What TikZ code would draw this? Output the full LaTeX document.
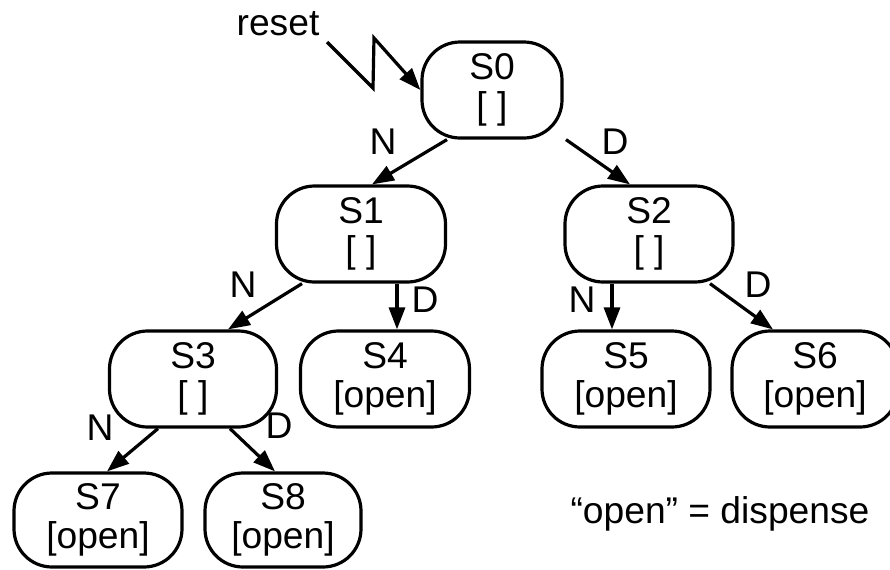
\documentclass[tikz,border=0pt]{standalone}
\usepackage{fontspec}
\setmainfont{Liberation Sans}
\usetikzlibrary{arrows.meta,calc}
\begin{document}
\begin{tikzpicture}[x=0.5pt,y=-0.5pt,
  state/.style={draw,line width=1.6pt,rounded corners=19pt,minimum width=84pt,minimum height=48pt,inner sep=0pt,align=center,font=\fontsize{18.6}{19.5}\selectfont},
  arr/.style={line width=1.6pt,-{Triangle[length=11pt,width=8pt]}},
  lbl/.style={font=\fontsize{18.6}{19.5}\selectfont,inner sep=0pt}]
\useasboundingbox (0,0) rectangle (890,569);
\begin{scope}
\clip (0,0) rectangle (890,569);
\node[state, minimum width=70pt] (S0) at (492,90) {S0\\{[ ]}};
\node[state, minimum width=84.5pt] (S1) at (361,234) {S1\\{[ ]}};
\node[state] (S2) at (649,234) {S2\\{[ ]}};
\node[state, minimum width=83.5pt] (S3) at (193,379) {S3\\{[ ]}};
\node[state, minimum width=84.5pt] (S4) at (385,379) {S4\\{[open]}};
\node[state] (S5) at (626,379) {S5\\{[open]}};
\node[state, minimum width=83pt] (S6) at (815,379) {S6\\{[open]}};
\node[state, minimum height=47pt] (S7) at (98,520) {S7\\{[open]}};
\node[state, minimum width=78pt, minimum height=47pt] (S8) at (283,520) {S8\\{[open]}};
\end{scope}

\draw[arr] ($(S0.south)+(-45,0)$) -- ($(S1.north)+(11,0)$);
\draw[arr] ($(S0.south)+(74,0)$) -- ($(S2.north)+(-19,0)$);
\draw[arr] ($(S1.south)+(-59,0)$) -- ($(S3.north)+(35,0)$);
\coordinate (a) at ($(S1.south)+(36,0)$);
\draw[arr] (a) -- (a |- S4.north);
\coordinate (b) at ($(S2.south)+(-37,0)$);
\draw[arr] (b) -- (b |- S5.north);
\draw[arr] ($(S2.south)+(61,0)$) -- ($(S6.north)+(-42,0)$);
\draw[arr] ($(S3.south)+(-35,0)$) -- ($(S7.north)+(9,0)$);
\draw[arr] ($(S3.south)+(37,0)$) -- ($(S8.north)+(-8,0)$);

\node[lbl] (l1) at (383,142) {N};
\node[lbl] (l2) at (615,142) {D};
\node[lbl] (l3) at (243,285) {N};
\node[lbl] (l4) at (425,300) {D};
\node[lbl] (l5) at (582,300) {N};
\node[lbl] (l6) at (758,285) {D};
\node[lbl] (l7) at (100,428) {N};
\node[lbl] (l8) at (279,426) {D};

\node[lbl, anchor=base] (reset) at (278,35) {reset};
\coordinate (r0) at (327,42);
\coordinate (r1) at (373,88);
\coordinate (r2) at (374,38);
\draw[arr] (r0) -- (r1) -- (r2) -- (S0.west);

\node[lbl, anchor=base] (legend) at (720,523) {“open” = dispense};
\end{tikzpicture}
\end{document}
